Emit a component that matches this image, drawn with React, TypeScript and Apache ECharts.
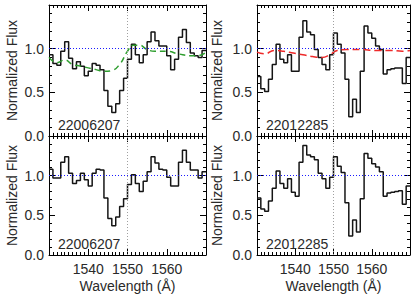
import React, { useEffect, useRef } from 'react';
import * as echarts from 'echarts';

// Bin edges in wavelength (Å)
const WAVE_EDGES = [
  1530, 1531, 1532, 1533, 1534, 1535, 1536, 1537, 1538, 1539,
  1540, 1541, 1542, 1543, 1544, 1545, 1546, 1547, 1548, 1549,
  1550, 1551, 1552, 1553, 1554, 1555, 1556, 1557, 1558, 1559,
  1560, 1561, 1562, 1563, 1564, 1565, 1566, 1567, 1568, 1569, 1570,
];

// 22006207, top panel
const FLUX_TL = [
  0.93, 0.83, 0.81, 0.97, 1.08, 0.89, 0.77, 0.85, 0.80, 0.69,
  0.74, 0.83, 0.81, 0.76, 0.52, 0.34, 0.27, 0.37, 0.52, 0.66,
  0.88, 1.05, 0.93, 0.84, 0.93, 1.08, 1.19, 1.09, 1.03, 1.03,
  0.92, 0.76, 0.88, 1.13, 1.22, 1.07, 0.95, 0.92, 0.90, 0.98,
];
// 22012285, top panel
const FLUX_TR = [
  0.68, 0.54, 0.51, 0.65, 0.82, 1.05, 0.88, 0.84, 0.93, 0.74,
  0.74, 1.13, 1.32, 1.19, 1.16, 0.99, 0.90, 0.82, 0.76, 0.93,
  1.18, 1.05, 0.95, 0.65, 0.22, 0.42, 0.27, 0.74, 1.26, 1.18,
  1.12, 1.03, 0.99, 0.71, 0.76, 0.77, 0.78, 0.78, 0.60, 0.90,
];
// 22006207, bottom panel
const FLUX_BL = [
  1.08, 0.97, 0.97, 1.17, 1.24, 1.03, 0.90, 0.94, 1.03, 0.95,
  0.87, 1.03, 1.08, 1.07, 0.72, 0.46, 0.37, 0.48, 0.61, 0.71,
  0.89, 1.01, 0.90, 0.80, 0.93, 1.05, 1.24, 1.16, 1.08, 1.07,
  0.98, 0.87, 0.87, 1.17, 1.32, 1.17, 1.07, 1.07, 0.97, 1.05,
];
// 22012285, bottom panel
const FLUX_BR = [
  0.72, 0.58, 0.55, 0.68, 0.84, 1.06, 0.90, 0.84, 0.96, 0.79,
  0.74, 1.17, 1.38, 1.26, 1.24, 1.20, 1.03, 0.96, 0.84, 0.98,
  1.24, 1.12, 1.04, 0.66, 0.24, 0.44, 0.29, 0.71, 1.28, 1.22,
  1.15, 1.11, 1.05, 0.74, 0.78, 0.79, 0.80, 0.81, 0.64, 0.87,
];

// Model curves (top panels)
const MODEL_TL_WAVE = [1530, 1532, 1534, 1536, 1538, 1540, 1542, 1544, 1546, 1548, 1550, 1551.5, 1553, 1555, 1557, 1560, 1563, 1566, 1568, 1570];
const MODEL_TL_FLUX = [0.90, 0.84, 0.87, 0.82, 0.80, 0.78, 0.76, 0.74, 0.75, 0.82, 0.97, 1.04, 1.04, 0.99, 0.97, 0.97, 0.94, 0.92, 0.92, 0.96];
const MODEL_TR_WAVE = [1530, 1532, 1534.5, 1537, 1539.5, 1542, 1544.5, 1547, 1549, 1551, 1553.5, 1557, 1561, 1565, 1568, 1570];
const MODEL_TR_FLUX = [0.96, 0.94, 0.98, 0.97, 0.95, 0.93, 0.91, 0.90, 0.93, 0.98, 0.99, 0.99, 0.98, 0.98, 0.97, 0.98];

const X_TICKS_SHOWN = [1540, 1550, 1560];
const Y_TICKS_SHOWN = [0, 0.5, 1.0];
const LABELS = ['22006207', '22012285', '22006207', '22012285'];

const FONT = 'Liberation Sans, Arial, Helvetica, sans-serif';
const TEXT_COLOR = '#2a2a2a';

const GRIDS = [
  { left: 49, top: 5, width: 157, height: 131 },
  { left: 257, top: 5, width: 153, height: 131 },
  { left: 49, top: 136, width: 157, height: 119 },
  { left: 257, top: 136, width: 153, height: 119 },
];

function stepData(flux: number[]) {
  const d: [number, number][] = flux.map((v, i) => [WAVE_EDGES[i], v]);
  d.push([WAVE_EDGES[flux.length], flux[flux.length - 1]]);
  return d;
}

function buildOption() {
  const xAxis: any[] = [];
  const yAxis: any[] = [];
  const series: any[] = [];
  const fluxes = [FLUX_TL, FLUX_TR, FLUX_BL, FLUX_BR];

  GRIDS.forEach((_, g) => {
    const isBottomRow = g >= 2;
    const isRight = g % 2 === 1;
    const baseX = {
      gridIndex: g,
      type: 'value',
      min: 1530,
      max: 1570,
      interval: 10,
      axisLine: { show: true, onZero: false, lineStyle: { color: '#000', width: 1 } },
      axisTick: { show: true, inside: true, length: 6, lineStyle: { color: '#000' } },
      minorTick: { show: true, splitNumber: 10, length: 3, lineStyle: { color: '#000' } },
      splitLine: { show: false },
    };
    xAxis.push({
      ...baseX,
      position: 'bottom',
      axisLabel: {
        show: isBottomRow,
        margin: 7,
        fontFamily: FONT,
        fontSize: 14,
        color: TEXT_COLOR,
        formatter: (v: number) => (X_TICKS_SHOWN.includes(v) ? String(v) : ''),
      },
      name: isBottomRow ? 'Wavelength (Å)' : '',
      nameLocation: 'middle',
      nameGap: 24,
      nameTextStyle: { fontFamily: FONT, fontSize: 14, color: TEXT_COLOR },
    });
    xAxis.push({ ...baseX, position: 'top', axisLabel: { show: false } });

    const baseY = {
      gridIndex: g,
      type: 'value',
      min: 0,
      max: 1.5,
      interval: 0.5,
      axisLine: { show: true, onZero: false, lineStyle: { color: '#000', width: 1 } },
      axisTick: { show: true, inside: true, length: 6, lineStyle: { color: '#000' } },
      minorTick: { show: true, splitNumber: 5, length: 3, lineStyle: { color: '#000' } },
      splitLine: { show: false },
    };
    yAxis.push({
      ...baseY,
      position: 'left',
      axisLabel: {
        show: true,
        margin: 5,
        fontFamily: FONT,
        fontSize: 14,
        color: TEXT_COLOR,
        formatter: (v: number) => (Y_TICKS_SHOWN.some((t) => Math.abs(t - v) < 1e-6) ? v.toFixed(1) : ''),
      },
      name: 'Normalized Flux',
      nameLocation: 'middle',
      nameGap: isRight ? 33 : 30,
      nameTextStyle: { fontFamily: FONT, fontSize: 14, color: TEXT_COLOR },
    });
    yAxis.push({ ...baseY, position: 'right', axisLabel: { show: false } });

    series.push({
      type: 'line',
      xAxisIndex: 2 * g,
      yAxisIndex: 2 * g,
      step: 'end',
      data: stepData(fluxes[g]),
      showSymbol: false,
      lineStyle: { color: '#151515', width: 1.5 },
      z: 3,
      markLine: {
        silent: true,
        symbol: ['none', 'none'],
        label: { show: false },
        data: [
          { yAxis: 1.0, lineStyle: { color: '#1a1aff', type: [1, 2], width: 1 } },
          { xAxis: 1550, lineStyle: { color: '#a0a0a0', type: [1, 2], width: 1 } },
        ],
      },
    });
  });

  series.push({
    type: 'line',
    xAxisIndex: 0,
    yAxisIndex: 0,
    smooth: 0.5,
    data: MODEL_TL_WAVE.map((w, i) => [w, MODEL_TL_FLUX[i]]),
    showSymbol: false,
    lineStyle: { color: '#2e9e2e', width: 1.5, type: [6, 4] },
    z: 4,
  });
  series.push({
    type: 'line',
    xAxisIndex: 2,
    yAxisIndex: 2,
    smooth: 0.5,
    data: MODEL_TR_WAVE.map((w, i) => [w, MODEL_TR_FLUX[i]]),
    showSymbol: false,
    lineStyle: { color: '#ee2a2a', width: 1.5, type: [7, 4] },
    z: 4,
  });

  const graphic = GRIDS.map((gr, g) => ({
    type: 'text',
    left: gr.left + 9,
    top: gr.top + gr.height - 18,
    style: { text: LABELS[g], font: `14px ${FONT}`, fill: TEXT_COLOR },
    z: 10,
  }));

  return {
    animation: false,
    backgroundColor: '#fff',
    grid: GRIDS.map((g) => ({ ...g, containLabel: false })),
    xAxis,
    yAxis,
    series,
    graphic,
  };
}

export default function App() {
  const ref = useRef<HTMLDivElement>(null);
  useEffect(() => {
    if (!ref.current) return;
    const chart = echarts.init(ref.current, null, { renderer: 'svg' });
    chart.setOption(buildOption() as any);
    return () => chart.dispose();
  }, []);
  return (
    <div
      ref={ref}
      style={{ position: 'fixed', left: 0, top: 0, width: 415, height: 297, background: '#fff' }}
    />
  );
}
